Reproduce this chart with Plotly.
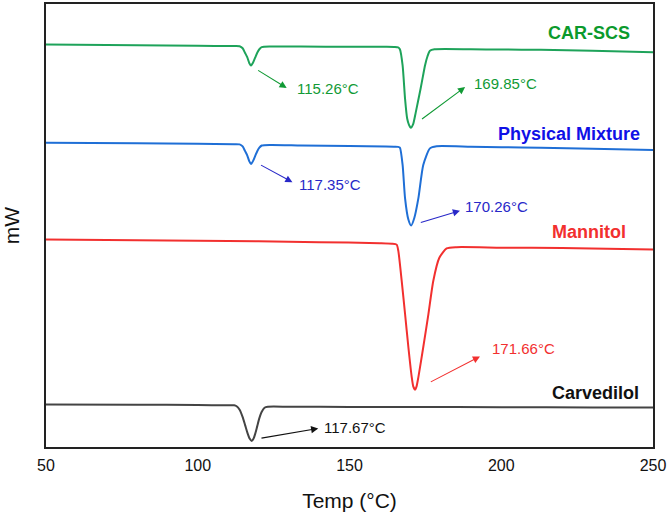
import plotly.graph_objects as go

# ---- data (Temp in °C, heat flow in arbitrary mW units, curves offset) ----
car_scs_T = [50, 80, 100, 112, 113.8, 114.8, 115.6, 116.3, 117.0, 117.55, 118.2, 118.9, 119.6, 120.3, 121.1, 124,
             134, 150, 162, 165, 166.0, 166.6, 167.5, 168.3, 169.0, 169.6, 170.2, 171.0, 171.8, 172.6, 173.4,
             174.2, 174.9, 175.7, 176.5, 178, 190, 200, 213, 230, 250]
car_scs_mW = [40.47, 40.4, 40.35, 40.32, 40.3, 40.1, 39.62, 39.2, 38.6, 38.37, 38.65, 39.15, 39.65, 40.0, 40.22, 40.28,
              40.27, 40.25, 40.25, 40.23, 40.18, 40.0, 38.37, 35.03, 33.03, 32.4, 32.1, 32.5, 33.6, 34.8, 36.0,
              37.3, 38.4, 39.3, 39.85, 40.0, 40.0, 39.97, 39.95, 39.85, 39.7]

pm_T = [50, 80, 100, 112, 113.8, 114.8, 115.6, 116.3, 117.0, 117.55, 118.2, 118.9, 119.6, 120.3, 121.1, 124,
        134, 150, 162, 165, 166.0, 166.6, 167.5, 168.3, 169.4, 170.3, 171.35, 172.7, 174.3, 176.5, 178.7,
        190, 200, 213, 230, 250]
pm_mW = [30.6, 30.55, 30.5, 30.45, 30.43, 30.23, 29.75, 29.33, 28.72, 28.45, 28.75, 29.25, 29.75, 30.1, 30.32, 30.38,
         30.33, 30.27, 30.22, 30.2, 30.18, 30.1, 28.37, 25.03, 22.87, 22.27, 23.03, 25.03, 28.37, 30.03, 30.25,
         30.2, 30.15, 30.1, 30.0, 29.87]

man_T = [50, 80, 100, 120, 140, 160, 164, 165.55, 166.1, 167.2, 168.3, 169.4, 170.5, 171.0, 171.6, 172.1, 172.7,
         174.3, 176.0, 177.6, 179.6, 182.0, 185.3, 200, 220, 240, 250]
man_mW = [20.87, 20.8, 20.75, 20.68, 20.6, 20.5, 20.45, 20.35, 19.7, 16.7, 13.4, 10.03, 7.03, 6.1, 5.77, 6.1, 7.03,
          10.03, 13.37, 16.7, 19.03, 19.97, 20.1, 20.05, 20.0, 19.9, 19.87]

carv_T = [50, 80, 100, 110, 112.0, 112.8, 113.8, 114.8, 115.6, 116.4, 117.1, 117.77, 118.4, 119.0, 119.6, 120.3,
          121.0, 122, 123.1, 130, 150, 170, 200, 230, 250]
carv_mW = [4.27, 4.25, 4.22, 4.2, 4.2, 4.1, 3.75, 3.0, 2.2, 1.4, 0.85, 0.6, 0.85, 1.4, 2.1, 2.9,
           3.5, 3.95, 4.05, 4.05, 4.03, 4.02, 4.0, 3.98, 3.97]

curve_names = ["CAR-SCS", "Physical Mixture", "Mannitol", "Carvedilol"]
curve_label_T = [243.0, 246.4, 241.8, 246.0]
curve_label_mW = [41.6, 31.5, 21.6, 5.43]

# peak annotations: text, arrow tail (T, mW), arrow head (T, mW), text position (T, mW)
peak_texts = ["115.26°C", "169.85°C", "117.35°C", "170.26°C", "171.66°C", "117.67°C"]
peak_tail_T = [119.4, 173.4, 120.35, 173.0, 176.3, 120.5]
peak_tail_mW = [37.97, 32.87, 28.43, 22.53, 6.47, 0.87]
peak_head_T = [129.3, 188.1, 131.2, 186.4, 193.0, 139.7]
peak_head_mW = [36.1, 36.2, 26.63, 23.77, 9.1, 1.87]
peak_text_T = [132.0, 190.2, 132.6, 187.5, 196.3, 140.8]
peak_text_mW = [36.03, 36.6, 26.37, 24.2, 9.87, 1.93]
peak_curve = [0, 0, 1, 1, 2, 3]

x_ticks = [50, 100, 150, 200, 250]

# ---- styles ----
line_colors = ["#1ea35a", "#1f6fd6", "#f2302f", "#444444"]
label_colors = ["#0b9a2c", "#1010e6", "#f2302f", "#111111"]
note_colors = ["#119a35", "#2828c8", "#f2302f", "#111111"]
FONT = "Liberation Sans, Arial, sans-serif"

fig = go.Figure()
series = [(car_scs_T, car_scs_mW), (pm_T, pm_mW), (man_T, man_mW), (carv_T, carv_mW)]
for i, (xs, ys) in enumerate(series):
    fig.add_trace(go.Scatter(x=xs, y=ys, mode="lines", name=curve_names[i],
                             line=dict(color=line_colors[i], width=2, shape="spline", smoothing=0.6),
                             showlegend=False, hoverinfo="skip"))

annotations = []
for i, name in enumerate(curve_names):
    annotations.append(dict(x=curve_label_T[i], y=curve_label_mW[i], xref="x", yref="y", text="<b>%s</b>" % name,
                            showarrow=False, xanchor="right", yanchor="middle",
                            font=dict(family=FONT, size=18, color=label_colors[i])))
for k, t in enumerate(peak_texts):
    c = note_colors[peak_curve[k]]
    annotations.append(dict(x=peak_head_T[k], y=peak_head_mW[k], ax=peak_tail_T[k], ay=peak_tail_mW[k],
                            xref="x", yref="y", axref="x", ayref="y", text="", showarrow=True,
                            arrowhead=2, arrowsize=1.3, arrowwidth=1.1, arrowcolor=c, standoff=0, startstandoff=0))
    annotations.append(dict(x=peak_text_T[k], y=peak_text_mW[k], xref="x", yref="y", text=t, showarrow=False,
                            xanchor="left", yanchor="middle", font=dict(family=FONT, size=15, color=c)))

fig.update_layout(
    width=669, height=515,
    margin=dict(l=46, r=16, t=2, b=68),
    paper_bgcolor="white", plot_bgcolor="white",
    font=dict(family=FONT, color="#111111"),
    annotations=annotations,
    hovermode=False,
    xaxis=dict(range=[50, 250], tickvals=x_ticks, ticktext=[str(v) for v in x_ticks], ticks="",
               ticklabelstandoff=3,
               showgrid=False, zeroline=False, showline=True, mirror=True, linecolor="#222222", linewidth=1.5,
               tickfont=dict(family=FONT, size=16, color="#111111"),
               title=dict(text="Temp (°C)", font=dict(family=FONT, size=21, color="#111111"), standoff=20)),
    yaxis=dict(range=[0, 44.55], showticklabels=False, ticks="", showgrid=False, zeroline=False,
               showline=True, mirror=True, linecolor="#222222", linewidth=1.5,
               title=dict(text="mW", font=dict(family=FONT, size=21, color="#111111"), standoff=21)),
)

fig.write_html("out.html", config={"displayModeBar": False},
               post_script="document.body.style.margin='0';document.body.style.overflow='hidden';")
